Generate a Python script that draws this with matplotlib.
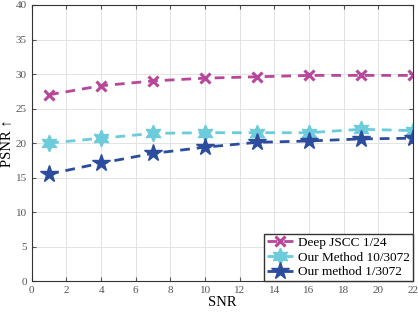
import matplotlib
matplotlib.use("Agg")
import matplotlib.pyplot as plt

snr = [1, 4, 7, 10, 13, 16, 19, 22]
deep_jscc = [27.0, 28.3, 29.0, 29.4, 29.6, 29.8, 29.8, 29.8]
ours_10 = [20.0, 20.7, 21.4, 21.5, 21.5, 21.5, 22.0, 21.8]
ours_1 = [15.5, 17.1, 18.5, 19.4, 20.1, 20.3, 20.6, 20.7]
labels = ["Deep JSCC 1/24", "Our Method 10/3072", "Our method 1/3072"]

plt.rcParams['font.family'] = ['Liberation Serif', 'DejaVu Serif']

fig = plt.figure(figsize=(4.18, 3.12), dpi=100)
ax = fig.add_axes([0.076, 0.099, 0.912, 0.885])

ax.plot(snr, deep_jscc, ls=(0, (3.5, 2.5)), lw=2, color="#B8479B", marker="x",
        ms=6.5, mew=2.2, label=labels[0])
ax.plot(snr, ours_10, ls=(0, (3.5, 2.5)), lw=2, color="#6CCCDC", marker=(6, 1, 0),
        ms=12, label=labels[1])
ax.plot(snr, ours_1, ls=(0, (3.5, 2.5)), lw=2, color="#2C4C9E", marker="*",
        ms=13, label=labels[2])

ax.set_xlim(0, 22); ax.set_ylim(0, 40)
ax.set_xticks(range(0, 23, 2)); ax.set_yticks(range(0, 41, 5))
ax.grid(True, color="#e3e3e3", lw=0.7)
ax.set_axisbelow(True)
ax.tick_params(direction="in", labelsize=8, colors="#555555", length=3, top=True, right=True)
for s in ax.spines.values():
    s.set_color("#333333"); s.set_linewidth(0.8)
ax.set_xlabel("SNR", fontsize=10.5, labelpad=1)
ax.set_ylabel("PSNR \u2191", fontsize=10.5, labelpad=2)
ax.legend(loc="lower right", fontsize=9.5, frameon=True, fancybox=False,
          edgecolor="#333333", framealpha=1, borderpad=0.2, handlelength=2.0,
          handletextpad=0.4, labelspacing=0.2, borderaxespad=0)

fig.savefig("out.png", dpi=100)
